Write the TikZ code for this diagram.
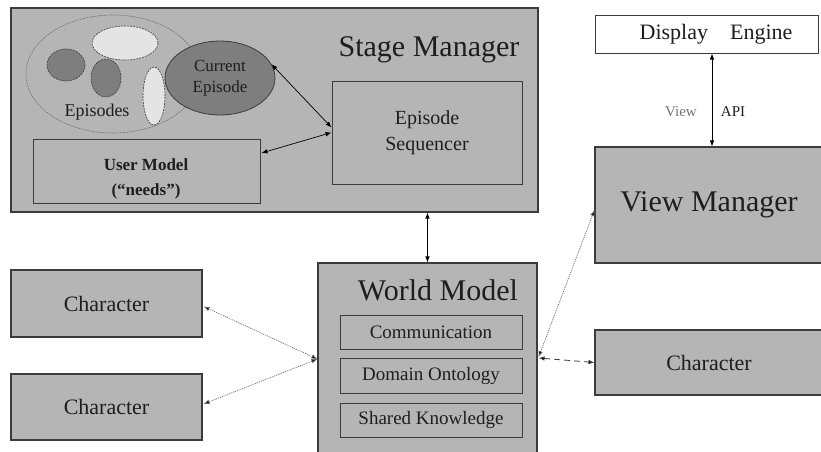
\documentclass[tikz,border=0pt]{standalone}
\usepackage{fontspec}
\setmainfont{Liberation Serif}
\usetikzlibrary{arrows.meta,shapes.geometric,calc}
\definecolor{boxgray}{HTML}{B5B5B5}
\definecolor{darkfill}{HTML}{7E7E7E}
\definecolor{lightfill}{HTML}{E4E4E4}
\definecolor{edgecol}{HTML}{3C3C3C}
\definecolor{txtcol}{HTML}{1E1E1E}
\begin{document}
\begin{tikzpicture}[x=1pt,y=-1pt,
  every node/.style={text=txtcol},
  box/.style={draw=edgecol,line width=1.1pt,fill=boxgray,rectangle,inner sep=0pt},
  subbox/.style={draw=edgecol,line width=0.9pt,fill=boxgray,rectangle,inner sep=0pt,font=\fontsize{19}{22}\selectfont},
  blob/.style={ellipse,inner sep=0pt,draw=edgecol,line width=0.6pt,dash pattern=on 2pt off 1pt},
  lbl/.style={inner sep=0pt},
  arr/.style={line width=0.7pt,draw=black,{Latex[length=6pt,width=4.5pt]}-{Latex[length=6pt,width=4.5pt]}},
  dotarr/.style={line width=0.7pt,draw=black!60,dash pattern=on 1pt off 1pt,{Latex[length=6pt,width=4.5pt,fill=black]}-{Latex[length=6pt,width=4.5pt,fill=black]}},
  dasharr/.style={line width=0.8pt,draw=black!75,dash pattern=on 6pt off 4pt,{Latex[length=6pt,width=4.5pt,fill=black]}-{Latex[length=6pt,width=4.5pt,fill=black]}}
]
\useasboundingbox (0,0) rectangle (821,451);
\fill[white] (0,0) rectangle (821,451);

% Stage Manager
\node[box,minimum width=527pt,minimum height=204pt] (sm) at (274.5,110) {};
\node[lbl,font=\fontsize{30}{34}\selectfont] (smt) at (429,50) {Stage Manager};
\node[blob,draw=black!55,fill=boxgray,minimum width=174pt,minimum height=118pt] (eps) at (113,74) {};
\node[blob,fill=darkfill,minimum width=38pt,minimum height=32pt] (e1) at (66,65) {};
\node[blob,fill=darkfill,minimum width=30pt,minimum height=38pt] (e2) at (106,78) {};
\node[blob,fill=lightfill,minimum width=66pt,minimum height=34pt] (e3) at (125,43) {};
\node[blob,fill=lightfill,minimum width=22pt,minimum height=58pt] (e4) at (154,96) {};
\node[ellipse,inner sep=0pt,draw=edgecol,line width=0.8pt,fill=darkfill,minimum width=110pt,minimum height=74pt,align=center,font=\fontsize{17}{21}\selectfont] (ce) at (220,78) {Current\\Episode};
\node[lbl,font=\fontsize{18}{20}\selectfont] (epl) at (97,112) {Episodes};
\node[box,line width=0.9pt,minimum width=227pt,minimum height=64pt] (um) at (146.5,171) {};
\node[lbl,font=\bfseries\fontsize{17}{20}\selectfont] (umt1) at (146,165) {User Model};
\node[lbl,font=\bfseries\fontsize{17}{20}\selectfont] (umt2) at (146,191) {(“needs”)};
\node[box,line width=0.9pt,minimum width=190pt,minimum height=103pt,align=center,font=\fontsize{20}{26}\selectfont] (es) at (427,132.5) {Episode\\Sequencer};

\draw[arr] (ce.15) -- ($(es.west)+(0,-5)$);
\draw[arr] ($(um.east)+(1,-18)$) -- ($(es.west)+(0,0)$);

% World Model
\node[box,minimum width=219pt,minimum height=192pt] (wm) at (427.5,359) {};
\node[lbl,font=\fontsize{30}{34}\selectfont] (wmt) at (438,290) {World Model};
\node[subbox,minimum width=182pt,minimum height=34pt] (comm) at (431,332) {Communication};
\node[subbox,minimum width=182pt,minimum height=35pt] (dom) at (431,375.5) {Domain Ontology};
\node[subbox,minimum width=182pt,minimum height=34pt] (shk) at (431,420) {Shared Knowledge};

\draw[arr] (wm.north |- sm.south) -- (wm.north);

% Characters
\node[box,minimum width=191pt,minimum height=67pt,font=\fontsize{22}{26}\selectfont] (ch1) at (106.5,303.5) {Character};
\node[box,minimum width=191pt,minimum height=66pt,font=\fontsize{22}{26}\selectfont] (ch2) at (106.5,407) {Character};
\node[box,minimum width=228pt,minimum height=65pt,font=\fontsize{22}{26}\selectfont] (ch3) at (709,362.5) {Character};

\draw[dotarr] ($(ch1.east)+(1,3)$) -- (wm.west);
\draw[dotarr] ($(ch2.east)+(1,-3)$) -- (wm.west);
\draw[dasharr] ($(wm.east)+(1,-1)$) -- (ch3.west);

% View Manager and Display Engine
\node[box,minimum width=228pt,minimum height=116pt,font=\fontsize{30}{34}\selectfont] (vm) at (709,205) {View Manager};
\node[draw=edgecol,line width=1pt,fill=white,inner sep=0pt,minimum width=223pt,minimum height=38pt] (de) at (706.5,34) {};
\node[lbl,font=\fontsize{22}{24}\selectfont] (det) at (716,34) {Display\hspace{1em}Engine};
\coordinate (apix) at (712,0);
\draw[arr] (de.south -| apix) -- (vm.north -| apix);
\node[lbl,text=black!55,font=\fontsize{15}{18}\selectfont] (viewl) at (681,112) {View};
\node[lbl,font=\fontsize{15}{18}\selectfont] (apil) at (733,112) {API};

\draw[dotarr] ($(wm.east)+(1,-2)$) -- ($(vm.west)+(0,5)$);
\end{tikzpicture}
\end{document}
